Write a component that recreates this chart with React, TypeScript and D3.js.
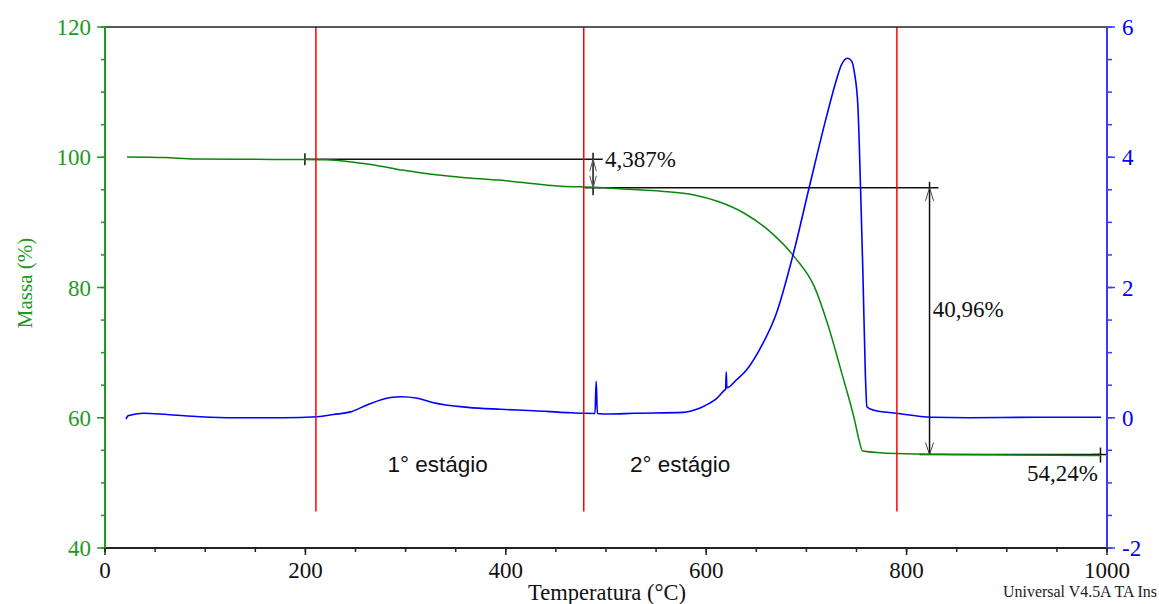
import React from "react";
import * as d3 from "d3";

// ---- data ----
const massT = [22, 60, 90, 150, 200, 220, 240, 260, 280, 300, 330, 360, 400, 455, 488, 522, 555, 588, 612, 638, 662, 688, 708, 722, 735, 748, 753, 756, 790, 850, 994];
const massV = [100.05, 99.95, 99.72, 99.68, 99.65, 99.6, 99.4, 99.0, 98.5, 97.95, 97.3, 96.85, 96.4, 95.56, 95.38, 95.08, 94.77, 94.2, 93.2, 91.4, 88.8, 84.7, 80.1, 74.0, 67.0, 59.7, 56.3, 54.9, 54.5, 54.35, 54.2];

const derivT = [21, 23, 38, 62, 95, 128, 178, 212, 228, 245, 262, 285, 295, 312, 328, 362, 395, 428, 462, 478, 489, 490.2, 491.4, 502, 528, 577, 585, 594, 603, 610, 618, 619.4, 620, 620.6, 630, 640, 653, 670, 687, 703, 720, 730, 735, 741, 745, 748, 751.4, 754, 756.4, 758.8, 760.4, 766.4, 790, 825, 862, 928, 994];
const derivV = [-0.02, 0.03, 0.07, 0.05, 0.016, 0.0, 0.0, 0.016, 0.05, 0.09, 0.2, 0.31, 0.323, 0.30, 0.23, 0.16, 0.13, 0.108, 0.078, 0.068, 0.066, 0.56, 0.066, 0.057, 0.068, 0.083, 0.105, 0.15, 0.22, 0.29, 0.42, 0.44, 0.70, 0.46, 0.58, 0.73, 1.04, 1.60, 2.52, 3.55, 4.62, 5.19, 5.42, 5.52, 5.48, 5.29, 4.78, 3.55, 2.22, 0.69, 0.17, 0.12, 0.068, 0.007, 0.0, 0.007, 0.007];

const stageLines = [210.5, 477.8, 790.3];
const xTicks = [0, 200, 400, 600, 800, 1000];
const leftTicks = [40, 60, 80, 100, 120];
const rightTicks = [-2, 0, 2, 4, 6];
const stageLabels = ["1° estágio", "2° estágio"];
const stageLabelT = [332, 574];
const stepLevels = [99.70, 95.31, 54.35];
const stepLabels = ["4,387%", "40,96%", "54,24%"];

const W = 1159;
const H = 604;
const L = 105, R = 1107, T = 27, B = 548;

const x = d3.scaleLinear().domain([0, 1000]).range([L, R]);
const yL = d3.scaleLinear().domain([40, 120]).range([B, T]);
const yR = d3.scaleLinear().domain([-2, 6]).range([B, T]);

const GREEN = "#0a870a";
const GREEN_AX = "#1f9a1f";
const BLUE = "#0000ff";
const BLUE_AX = "#3a3aff";
const RED = "#ff0000";
const SERIF = "'Liberation Serif', 'Times New Roman', serif";
const SANS = "'Liberation Sans', Arial, sans-serif";

export default function App() {
  const massLine = d3
    .line<number>()
    .x((_, i) => x(massT[i]))
    .y((d) => yL(d))
    .curve(d3.curveMonotoneX)(massV) as string;
  const derivLine = d3
    .line<number>()
    .x((_, i) => x(derivT[i]))
    .y((d) => yR(d))
    .curve(d3.curveMonotoneX)(derivV) as string;

  const leftMinor = d3.range(40, 120.01, 5);
  const rightMinor = d3.range(-2, 6.01, 0.5);
  const xMinor = d3.range(0, 1000.01, 50);

  const y1 = yL(stepLevels[0]);
  const y2 = yL(stepLevels[1]);
  const y3 = yL(stepLevels[2]);
  const a1 = x(487.1);
  const a2 = x(822.9);

  return (
    <svg width={W} height={H} style={{ position: "absolute", left: 0, top: 0, background: "#fff" }}>
      <rect x={0} y={0} width={W} height={H} fill="#fff" />

      {/* annotation lines */}
      <g stroke="#111" fill="none">
        <line x1={x(199.5)} x2={x(496.8)} y1={y1} y2={y1} strokeWidth={1.5} />
        <line x1={x(199.5)} x2={x(199.5)} y1={y1 - 6} y2={y1 + 6} strokeWidth={1.5} />
        <line x1={x(478.8)} x2={x(831.9)} y1={y2} y2={y2} strokeWidth={1.5} />
        {/* arrow 1 */}
        <line x1={a1} x2={a1} y1={y1 - 6.5} y2={y2 + 7.5} strokeWidth={1.5} />
        <path d={`M${a1 - 3.3},${y1 + 12} L${a1},${y1} L${a1 + 3.3},${y1 + 12}`} strokeWidth={1} stroke="#555" />
        <path d={`M${a1 - 3.3},${y2 - 12} L${a1},${y2} L${a1 + 3.3},${y2 - 12}`} strokeWidth={1} stroke="#555" />
        {/* arrow 2 */}
        <line x1={a2} x2={a2} y1={y2 - 6} y2={y3} strokeWidth={1.5} />
        <path d={`M${a2 - 4},${y2 + 13} L${a2},${y2} L${a2 + 4},${y2 + 13}`} strokeWidth={1} stroke="#444" />
        <path d={`M${a2 - 4},${y3 - 12} L${a2},${y3} L${a2 + 4},${y3 - 12}`} strokeWidth={1} stroke="#444" />
        <line x1={x(813)} x2={x(993.5)} y1={y3} y2={y3} strokeWidth={1.5} />
        <line x1={x(985)} x2={x(1001)} y1={y3} y2={y3} strokeWidth={1.5} />
        <line x1={x(993.5)} x2={x(993.5)} y1={y3 - 7} y2={y3 + 8} strokeWidth={1.5} />
      </g>

      {/* curves */}
      <path d={massLine} fill="none" stroke={GREEN} strokeWidth={1.5} />
      <path d={derivLine} fill="none" stroke={BLUE} strokeWidth={1.6} />

      {/* stage lines */}
      {stageLines.map((t, i) => (
        <line key={i} x1={x(t)} x2={x(t)} y1={yL(120)} y2={yL(45.6)} stroke={RED} strokeWidth={1.5} />
      ))}

      {/* frame */}
      <line x1={L} x2={R} y1={T} y2={T} stroke="#222" strokeWidth={1.5} />
      <line x1={L} x2={R} y1={B} y2={B} stroke="#222" strokeWidth={1.8} />
      <line x1={L} x2={L} y1={T} y2={B} stroke={GREEN_AX} strokeWidth={2} />
      <line x1={R} x2={R} y1={T} y2={B} stroke={BLUE_AX} strokeWidth={2} />

      {/* left ticks */}
      {leftMinor.map((v) => (
        <line key={"lm" + v} x1={L - 4} x2={L} y1={yL(v)} y2={yL(v)} stroke={GREEN_AX} strokeWidth={1.5} />
      ))}
      {leftTicks.map((v) => (
        <g key={"l" + v}>
          <line x1={L - 8} x2={L} y1={yL(v)} y2={yL(v)} stroke={GREEN_AX} strokeWidth={1.5} />
          <text x={L - 14} y={yL(v)} dy="0.35em" textAnchor="end" fontFamily={SERIF} fontSize={23} fill={GREEN_AX}>
            {v}
          </text>
        </g>
      ))}

      {/* right ticks */}
      {rightMinor.map((v) => (
        <line key={"rm" + v} x1={R} x2={R + 5} y1={yR(v)} y2={yR(v)} stroke={BLUE_AX} strokeWidth={1.5} />
      ))}
      {rightTicks.map((v) => (
        <g key={"r" + v}>
          <line x1={R} x2={R + 8} y1={yR(v)} y2={yR(v)} stroke={BLUE_AX} strokeWidth={1.5} />
          <text x={R + 15} y={yR(v)} dy="0.35em" textAnchor="start" fontFamily={SERIF} fontSize={23} fill={BLUE}>
            {v}
          </text>
        </g>
      ))}

      {/* x ticks */}
      {xMinor.map((v) => (
        <line key={"xm" + v} x1={x(v)} x2={x(v)} y1={B} y2={B + 4} stroke="#222" strokeWidth={1.5} />
      ))}
      {xTicks.map((v) => (
        <g key={"x" + v}>
          <line x1={x(v)} x2={x(v)} y1={B} y2={B + 7} stroke="#222" strokeWidth={1.5} />
          <text x={x(v)} y={B + 30} textAnchor="middle" fontFamily={SERIF} fontSize={23} fill="#111">
            {v}
          </text>
        </g>
      ))}

      {/* titles */}
      <text x={607} y={600} textAnchor="middle" fontFamily={SERIF} fontSize={22.5} fill="#111">
        Temperatura (°C)
      </text>
      <text
        transform={`translate(32,283) rotate(-90)`}
        textAnchor="middle"
        fontFamily={SERIF}
        fontSize={21}
        fill={GREEN_AX}
      >
        Massa (%)
      </text>
      <text x={1003} y={597} fontFamily={SERIF} fontSize={16} fill="#222" textLength={154} lengthAdjust="spacingAndGlyphs">
        Universal V4.5A TA Ins
      </text>

      {/* stage labels */}
      {stageLabels.map((s, i) => (
        <text key={s} x={x(stageLabelT[i])} y={yL(51.7)} textAnchor="middle" fontFamily={SANS} fontSize={22.5} fill="#111">
          {s}
        </text>
      ))}

      {/* step labels */}
      <text x={x(499)} y={y1 + 8} fontFamily={SERIF} fontSize={23} fill="#111">
        {stepLabels[0]}
      </text>
      <text x={x(826)} y={317} fontFamily={SERIF} fontSize={23} fill="#111">
        {stepLabels[1]}
      </text>
      <text x={x(991)} y={y3 + 26} textAnchor="end" fontFamily={SERIF} fontSize={23} fill="#111">
        {stepLabels[2]}
      </text>
    </svg>
  );
}
